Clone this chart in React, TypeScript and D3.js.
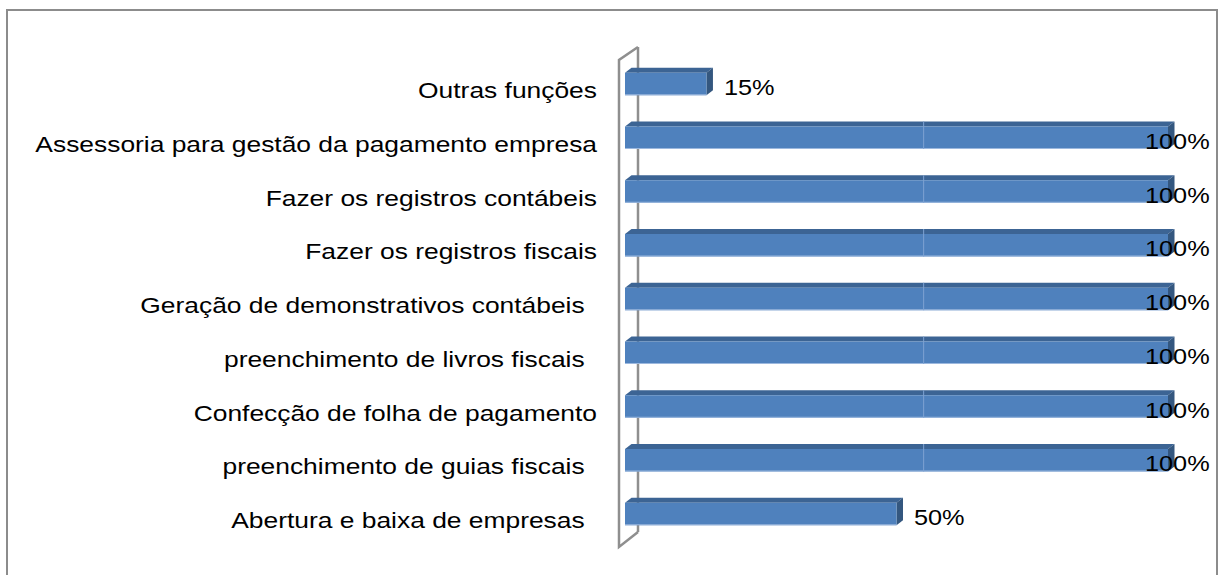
import React from "react";
import * as d3 from "d3";

const categories = [
  "Outras funções",
  "Assessoria para gestão da pagamento empresa",
  "Fazer os registros contábeis",
  "Fazer os registros fiscais",
  "Geração de demonstrativos contábeis ",
  "preenchimento de livros fiscais ",
  "Confecção de folha de pagamento",
  "preenchimento de guias fiscais ",
  "Abertura e baixa de empresas ",
];
const values = [15, 100, 100, 100, 100, 100, 100, 100, 50];
const seamValue = 55;

const W = 1223;
const H = 575;
const FONT = "'Liberation Sans', Arial, sans-serif";
const SX = 1.2;
const SXV = 1.15;

export default function App() {
  const x = d3.scaleLinear().domain([0, 100]).range([625, 1168]);
  const y = d3.scalePoint<string>().domain(categories).range([84, 514]);
  const barH = 22.5;
  const sideDx = 6.5;
  const topDy = 5;
  const wall = { fx: 619, bx: 638, fTop: 60, bTop: 47, fBot: 547, bBot: 532 };
  const front = "#4f81bd";
  const topC = "#3c6494";
  const sideC = "#34577f";

  return (
    <svg
      width={W}
      height={H}
      style={{ position: "absolute", left: 0, top: 0, display: "block" }}
    >
      <rect x={0} y={0} width={W} height={H} fill="#ffffff" />
      <rect x={7} y={10} width={1210} height={H + 20} fill="none" stroke="#8c8c8c" strokeWidth={2} />
      {/* wall */}
      <g stroke="#8f8f8f" strokeWidth={2.5} fill="none" strokeLinejoin="miter">
        <polyline points={`${wall.bx},${wall.bBot} ${wall.bx},${wall.bTop}`} />
        <polyline
          points={`${wall.bx},${wall.bTop} ${wall.fx},${wall.fTop} ${wall.fx},${wall.fBot} ${wall.bx},${wall.bBot}`}
        />
      </g>
      {/* bars */}
      {categories.map((c, i) => {
        const cy = y(c)!;
        const y0 = cy - barH / 2;
        const x0 = x(0);
        const x1 = x(values[i]);
        const xs = x(seamValue);
        return (
          <g key={c}>
            <polygon
              points={`${x0},${y0} ${x0 + sideDx},${y0 - topDy} ${x1 + sideDx},${y0 - topDy} ${x1},${y0}`}
              fill={topC}
            />
            <polygon
              points={`${x1},${y0} ${x1 + sideDx},${y0 - topDy} ${x1 + sideDx},${y0 + barH - topDy} ${x1},${y0 + barH}`}
              fill={sideC}
            />
            <rect x={x0} y={y0} width={x1 - x0} height={barH} fill={front} />
            <line x1={x0} x2={x1} y1={y0 + barH - 0.5} y2={y0 + barH - 0.5} stroke="#9cb8de" strokeWidth={1} />
            {values[i] > seamValue && (
              <line x1={xs} x2={xs} y1={y0 - topDy} y2={y0 + barH} stroke="#7ea2d2" strokeWidth={1} />
            )}
          </g>
        );
      })}
      {/* category labels */}
      {categories.map((c) => {
        const trail = /\s$/.test(c) ? 5 : 0;
        return (
          <text
            key={"l" + c}
            transform={`translate(${597 - trail},${y(c)! + 14}) scale(${SX},1)`}
            textAnchor="end"
            fontFamily={FONT}
            fontSize={22}
            fill="#000"
            style={{ whiteSpace: "pre" }}
          >
            {c}
          </text>
        );
      })}
      {/* value labels */}
      {categories.map((c, i) => {
        const lx = Math.min(x(values[i]) + sideDx + 11, 1145);
        return (
          <text
            key={"v" + c}
            transform={`translate(${lx},${y(c)! + 11}) scale(${SXV},1)`}
            fontFamily={FONT}
            fontSize={22}
            fill="#000"
          >
            {values[i] + "%"}
          </text>
        );
      })}
    </svg>
  );
}
